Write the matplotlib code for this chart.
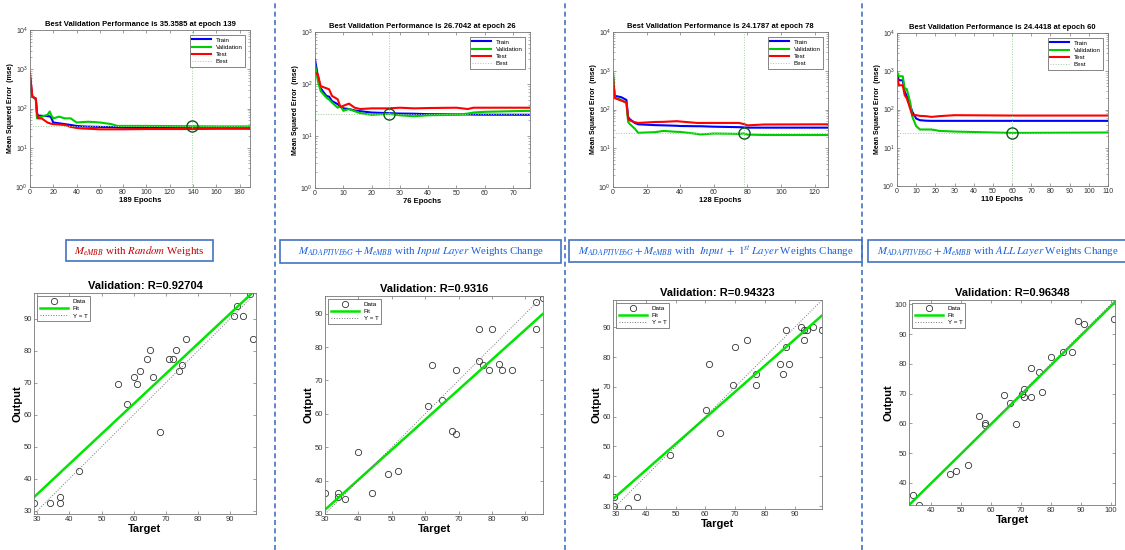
import matplotlib
matplotlib.use("Agg")
import matplotlib.pyplot as plt
from matplotlib.patches import Rectangle
from matplotlib.lines import Line2D
from matplotlib.ticker import MultipleLocator, LogLocator
import numpy as np

plt.rcParams['font.family'] = ['Liberation Sans', 'DejaVu Sans']
plt.rcParams['mathtext.fontset'] = 'stix'

# ---- training performance (top row) ----
n_epochs = [189, 76, 128, 110]
best_epoch = [139, 26, 78, 60]
best_perf = [35.3585, 26.7042, 24.1787, 24.4418]
perf_ymax = [1e4, 1e3, 1e4, 1e4]
epoch_step = [20, 10, 20, 10]

ep1 = [0, 2, 5, 6, 7, 10, 15, 17, 18, 20, 25, 30, 35, 40, 45, 50, 60, 70, 75, 80, 100, 139, 160, 189]
train1 = [660, 200, 180, 75, 66, 65, 64, 63, 60, 44, 42, 40, 38, 36, 35, 34.5, 34, 33.5, 33, 32.5, 32, 31.5, 31.5, 31.5]
val1 = [450, 200, 167, 56, 58, 62, 69, 84, 69, 56, 62, 56, 56, 44, 45, 46, 44, 40, 36, 36, 36, 35.4, 35, 35]
test1 = [800, 200, 180, 80, 56, 56, 44, 42, 41, 40, 39, 38, 34, 32, 31, 30.5, 29.5, 29.5, 29.5, 29.5, 30, 30, 30.5, 30.5]

ep2 = [0, 1, 2, 4, 5, 6, 8, 9, 10, 12, 14, 16, 20, 26, 30, 35, 40, 50, 54, 56, 60, 76]
train2 = [297, 142, 83, 59, 57, 47, 41, 37, 34, 33, 31, 30, 28.3, 27.5, 27, 26.8, 26.3, 26, 26, 25.8, 25.7, 25.6]
val2 = [236, 114, 73, 55, 50, 44, 35, 38, 30.5, 33, 30, 27.5, 25.5, 26.7, 25, 24, 25, 25.6, 27, 28.3, 29.2, 30.5]
test2 = [164, 153, 91, 83, 79, 59, 51, 36, 38, 42, 35, 33, 34, 34, 35, 34, 34.5, 35, 33, 35, 35, 35]

ep3 = [0, 1, 5, 8, 9, 10, 13, 15, 25, 30, 38, 40, 50, 52, 60, 75, 78, 80, 90, 128]
train3 = [735, 226, 207, 176, 64, 56, 45, 41.5, 39.5, 39, 38, 37.5, 37, 37, 36, 35, 34.5, 34, 34, 34]
val3 = [890, 206, 176, 145, 47.6, 42, 32, 25, 26, 28, 26.5, 26.4, 23.5, 22.7, 24, 23.5, 24.2, 22.5, 22, 22]
test3 = [660, 197, 169, 153, 57.8, 52, 47, 45, 47.6, 48, 50, 49, 45, 45, 45, 45, 42, 39, 41, 41.5]

ep4 = [0, 1, 3, 4, 5, 6, 7, 8, 10, 12, 15, 18, 22, 30, 60, 110]
train4 = [790, 580, 580, 290, 230, 175, 120, 87, 58, 52.5, 51, 50.5, 50.5, 50.5, 50.5, 50.5]
val4 = [960, 740, 740, 350, 350, 230, 143, 64, 36.7, 30, 30, 30, 27.6, 26.5, 24.4, 25]
test4 = [710, 430, 430, 237, 200, 143, 100, 71, 71, 68, 67, 64, 67, 71, 69.5, 69.5]

# ---- regression (bottom row) ----
r_values = ['0.92704', '0.9316', '0.94323', '0.96348']
reg_lims = [(29, 98), (30, 95.3), (29, 99.2), (32.5, 101.5)]
fit_slope = [0.94, 0.899, 0.878, 0.99]
fit_icpt = [7.0, 4.3, 6.9, 0.3]

tgt1 = [29.1, 34.0, 37.1, 37.1, 43.0, 55.0, 58.0, 60.1, 61.1, 62.1, 64.1, 65.2, 66.1, 68.1, 71.1, 72.2, 73.0, 74.1, 75.1, 76.1, 91.1, 92.0, 94.1, 96.2, 97.1]
out1 = [32.4, 32.4, 34.4, 32.4, 42.4, 69.5, 63.3, 71.7, 69.5, 73.5, 77.5, 80.2, 71.7, 54.7, 77.5, 77.5, 80.2, 73.5, 75.5, 83.6, 90.9, 93.9, 90.9, 97.7, 83.6]

tgt2 = [30.0, 34.0, 34.0, 36.0, 40.0, 44.0, 48.9, 51.9, 60.9, 62.1, 65.1, 68.1, 69.1, 69.1, 76.2, 76.2, 77.2, 79.2, 80.1, 82.1, 83.1, 86.1, 93.2, 93.2, 95.3]
out2 = [36.2, 36.2, 35.0, 34.5, 48.6, 36.2, 42.1, 42.8, 62.5, 74.5, 64.1, 54.9, 54.1, 73.1, 85.5, 75.9, 74.5, 73.1, 85.5, 75.0, 73.1, 73.1, 85.5, 93.5, 94.6]

tgt3 = [29.2, 29.2, 34.2, 37.1, 48.2, 60.2, 61.2, 65.1, 69.2, 70.1, 74.1, 77.1, 77.1, 85.1, 86.1, 87.1, 87.1, 88.1, 92.1, 93.1, 93.1, 94.1, 96.1, 99.1]
out3 = [33.0, 30.0, 29.4, 33.0, 47.3, 62.4, 77.8, 54.4, 70.7, 83.4, 85.6, 74.5, 70.7, 77.8, 74.5, 89.1, 83.4, 77.8, 90.2, 89.1, 85.6, 89.1, 90.2, 89.1]

tgt4 = [33.9, 36.0, 46.1, 48.1, 52.1, 56.1, 58.1, 58.1, 64.2, 66.2, 68.2, 70.2, 71.1, 71.1, 73.3, 73.3, 76.2, 77.2, 80.2, 84.2, 87.2, 89.2, 91.2, 101.3]
out4 = [35.9, 32.5, 43.1, 43.9, 45.9, 62.6, 60.1, 59.3, 69.5, 66.8, 59.8, 69.7, 71.6, 69.0, 78.5, 69.0, 77.1, 70.7, 82.3, 84.0, 84.0, 94.6, 93.5, 95.1]

captions = [
    r"$M_{eMBB}$ with $\mathit{Random}$ Weights",
    r"$M_{ADAPTIVE6G} + M_{eMBB}$ with $\mathit{Input\ Layer}$ Weights Change",
    r"$M_{ADAPTIVE6G} + M_{eMBB}$ with  $\mathit{Input\ +\ 1^{st}\ Layer}$ Weights Change",
    r"$M_{ADAPTIVE6G} + M_{eMBB}$ with $\mathit{ALL\ Layer}$ Weights Change",
]
caption_colors = ['#c00000', '#1c5ed6', '#1c5ed6', '#1c5ed6']

W, H = 1125, 550
fig = plt.figure(figsize=(W / 100, H / 100), dpi=100)


def px_axes(l, t, r, b):
    return fig.add_axes([l / W, 1 - b / H, (r - l) / W, (b - t) / H])


def style(ax, size):
    for s in ax.spines.values():
        s.set_color('#777777')
        s.set_linewidth(0.6)
    ax.tick_params(which='both', direction='in', labelsize=size, colors='#777777',
                   labelcolor='#333333', top=True, right=True, pad=1.5)
    ax.tick_params(which='major', length=2.5, width=0.5)
    ax.tick_params(which='minor', length=1.5, width=0.4)


# separators
for xs in [275, 565, 862]:
    fig.add_artist(Line2D([xs / W, xs / W], [0, 1], transform=fig.transFigure,
                          color='#4472c4', ls=(0, (3, 2)), lw=1.2))

top_boxes = [(30, 30, 250, 187), (315, 32, 530, 188), (613, 32, 828, 187), (897, 33, 1108, 186)]
perf = [(ep1, train1, val1, test1), (ep2, train2, val2, test2),
        (ep3, train3, val3, test3), (ep4, train4, val4, test4)]

for i in range(4):
    ax = px_axes(*top_boxes[i])
    ep, tr, va, te = perf[i]
    ax.plot(ep, tr, color='#0000ff', lw=1.5, label='Train')
    ax.plot(ep, va, color='#00cc00', lw=1.5, label='Validation')
    ax.plot(ep, te, color='#ff0000', lw=1.5, label='Test')
    ax.axvline(best_epoch[i], color='#9ccf9c', ls=':', lw=0.7, label='Best')
    ax.axhline(best_perf[i], color='#9ccf9c', ls=':', lw=0.7)
    ax.plot([best_epoch[i]], [best_perf[i]], 'o', mfc='none', mec='#0a5a1a', ms=8, mew=1.0)
    ax.set_yscale('log')
    ax.set_ylim(1, perf_ymax[i])
    ax.set_xlim(0, n_epochs[i])
    ax.xaxis.set_major_locator(MultipleLocator(epoch_step[i]))
    ax.yaxis.set_major_locator(LogLocator(base=10, numticks=10))
    style(ax, 5)
    ax.set_title('Best Validation Performance is %.4f at epoch %d' % (best_perf[i], best_epoch[i]),
                 fontsize=5.5, fontweight='bold', pad=3)
    ax.set_xlabel('%d Epochs' % n_epochs[i], fontsize=5.5, fontweight='bold', labelpad=1)
    ax.set_ylabel('Mean Squared Error  (mse)', fontsize=5, fontweight='bold', labelpad=1)
    leg = ax.legend(loc='upper right', fontsize=4.5, fancybox=False, edgecolor='#555555',
                    handlelength=3, borderpad=0.35, labelspacing=0.3, framealpha=1,
                    borderaxespad=0.8)
    leg.get_frame().set_linewidth(0.5)

# caption boxes
cap_boxes = [(66, 240, 213, 261), (280, 240, 561, 263), (569, 240, 862, 262), (868, 240, 1127, 262)]
for i in range(4):
    l, t, r, b = cap_boxes[i]
    fig.add_artist(Rectangle((l / W, 1 - b / H), (r - l) / W, (b - t) / H, transform=fig.transFigure,
                             fc='white', ec='#4472c4', lw=1.2))
    fig.text((l + r) / 2 / W, 1 - (t + b) / 2 / H, captions[i], color=caption_colors[i],
             family='Liberation Serif', fontsize=7.8, ha='center', va='center')

bot_boxes = [(34, 293, 256, 514), (325, 296, 543, 514), (613, 300, 822, 509), (909, 300, 1115, 505)]
reg = [(tgt1, out1), (tgt2, out2), (tgt3, out3), (tgt4, out4)]

for i in range(4):
    ax = px_axes(*bot_boxes[i])
    t, o = reg[i]
    lo, hi = reg_lims[i]
    xs = np.array([lo, hi])
    ax.plot(t, o, 'o', mfc='none', mec='#333333', ms=4.5, mew=0.6, label='Data')
    ax.plot(xs, fit_slope[i] * xs + fit_icpt[i], color='#00e600', lw=1.8, label='Fit')
    ax.plot(xs, xs, color='#777777', ls=':', lw=0.7, label='Y = T')
    ax.set_xlim(lo, hi)
    ax.set_ylim(lo, hi)
    ax.xaxis.set_major_locator(MultipleLocator(10))
    ax.yaxis.set_major_locator(MultipleLocator(10))
    style(ax, 5.5)
    ax.set_title('Validation: R=' + r_values[i], fontsize=8, fontweight='bold', pad=3)
    ax.set_xlabel('Target', fontsize=8, fontweight='bold', labelpad=1)
    ax.set_ylabel('Output', fontsize=8, fontweight='bold', labelpad=1)
    leg = ax.legend(loc='upper left', fontsize=4.5, fancybox=False, edgecolor='#555555',
                    handlelength=4.5, borderpad=0.4, labelspacing=0.3, framealpha=1)
    leg.get_frame().set_linewidth(0.5)

fig.savefig('out.png', dpi=100)
